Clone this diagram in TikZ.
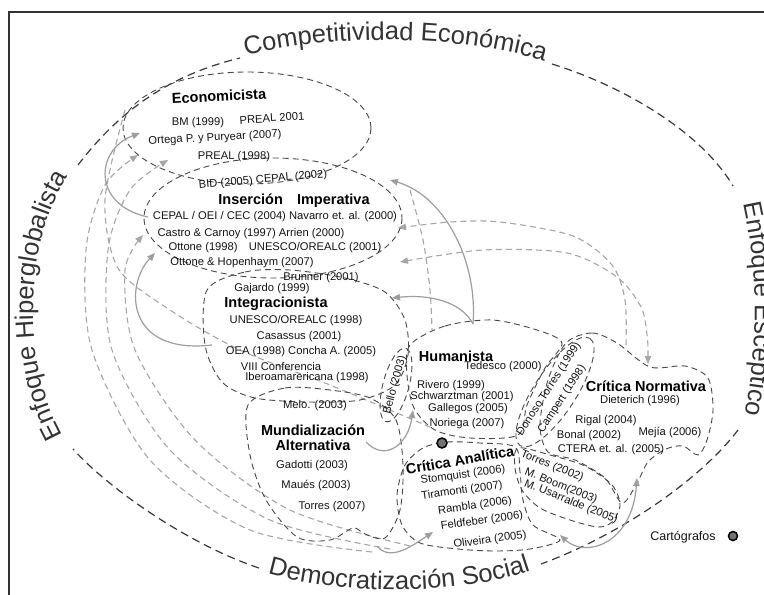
\documentclass[tikz,border=0pt]{standalone}
\usepackage{fontspec}
\setmainfont{Liberation Sans}
\usetikzlibrary{arrows.meta,decorations.text}

\begin{document}
\begin{tikzpicture}[x=1pt,y=-1pt,
  blob/.style={draw=black!72,line width=0.9pt,dash pattern=on 6pt off 4pt},
  outer/.style={draw=black!78,line width=1.2pt,dash pattern=on 8pt off 5pt},
  link/.style={draw=black!35,line width=1.1pt,dash pattern=on 6pt off 4pt},
  flow/.style={draw=black!38,line width=1.2pt},
  tip/.style={-{Triangle[length=8pt,width=6.5pt]}},
  twotip/.style={{Triangle[length=8pt,width=6.5pt]}-{Triangle[length=8pt,width=6.5pt]}},
  lbl/.style={inner sep=0pt,text=black!92,font=\fontsize{11.2}{12}\selectfont},
  ttl/.style={inner sep=0pt,font=\fontsize{14.5}{15}\selectfont\bfseries},
  arcname/.style={decorate,decoration={text along path,text align=center,text color=black!80,
    text={|\fontsize{25.5}{26}\selectfont|#1}}}]
\useasboundingbox (0,0) rectangle (764,595);
\fill[white] (0,0) rectangle (764,595);
\draw[black!80,line width=1.2pt] (764,12) -- (9,12) -- (9,595);

\draw[outer] (78,165) .. controls (120,110) and (170,75) .. (240,58);
\draw[outer] (552,64) .. controls (620,85) and (700,130) .. (733,186);
\draw[outer] (738,430) .. controls (700,480) and (620,535) .. (541,564);
\draw[outer] (259,568) .. controls (190,545) and (110,490) .. (73,449);
\path[arcname=Competitividad Económica] (236,58) .. controls (330,33) and (460,33) .. (554,64);
\path[arcname=Enfoque Escéptico] (738,182) .. controls (760,260) and (760,360) .. (740,436);
\path[arcname=Democratización Social] (250,568) .. controls (330,596) and (465,599) .. (548,564);
\path[arcname=Enfoque Hiperglobalista] (75,455) .. controls (18,380) and (18,230) .. (82,158);

\draw[link,tip] plot[smooth] coordinates {(372,552) (250,530) (150,460) (92,350) (86,250) (105,185) (138,155)};
\draw[link,tip] plot[smooth] coordinates {(390,549) (270,520) (170,450) (112,350) (108,250) (130,190) (168,160)};
\draw[link,tip] plot[smooth] coordinates {(410,546) (290,510) (195,440) (135,350) (125,270) (143,235)};
\draw[link] plot[smooth] coordinates {(125,110) (105,200) (118,268) (170,310) (240,350) (330,385) (430,427)};
\draw[link,tip] plot[smooth] coordinates {(626,345) (625,300) (612,265) (573,236) (500,222) (450,222) (398,228)};
\draw[link,twotip] plot[smooth] coordinates {(648,364) (647,335) (641,307) (617,277) (567,253) (483,250) (400,262)};
\draw[link] plot[smooth] coordinates {(410,190) (423,240) (430,290) (432,330)};

\draw[blob] (247,128) ellipse [x radius=124, y radius=56];
\draw[blob] (273,218) ellipse [x radius=129, y radius=60];
\draw[blob] plot[smooth cycle] coordinates {(207,290) (245,272) (290,270) (345,278) (385,292) (405,320) (408,355) (395,385) (360,400) (310,402) (255,398) (222,382) (205,345)};
\draw[blob] plot[smooth cycle] coordinates {(248,405) (285,388) (330,390) (370,398) (396,420) (403,465) (400,510) (385,538) (365,534) (353,528) (330,540) (297,537) (266,500) (250,455)};
\draw[blob] plot[smooth cycle] coordinates {(410,345) (445,326) (492,320) (537,330) (562,343) (545,368) (527,405) (518,435) (470,438) (435,430) (414,408) (407,375)};
\draw[blob,rotate around={75:(396,385)}] (396,385) ellipse [x radius=38, y radius=13];
\draw[blob,rotate around={57:(555,392)}] (555,392) ellipse [x radius=64, y radius=21];
\draw[blob] plot[smooth cycle] coordinates {(566,343) (592,333) (617,343) (650,367) (685,366) (708,378) (713,410) (707,440) (698,455) (683,446) (666,449) (648,462) (636,485) (622,503) (605,478) (575,460) (548,452) (540,425) (548,380)};
\draw[blob] plot[smooth cycle] coordinates {(518,448) (550,455) (585,466) (612,485) (620,505) (612,522) (598,527) (570,520) (540,508) (522,490) (515,468)};
\draw[blob] plot[smooth cycle] coordinates {(423,448) (447,442) (480,443) (515,447) (520,472) (523,500) (533,525) (560,540) (530,549) (495,551) (458,549) (420,543) (402,525) (397,495) (405,465)};

\coordinate (huTop) at (473,324);
\coordinate (insR) at (390,180);
\coordinate (intR) at (392,298);
\coordinate (insL) at (148,217);
\coordinate (ecoL) at (140,133);
\coordinate (intL) at (212,345);
\coordinate (ottL) at (155,253);
\coordinate (munR) at (366,442);
\coordinate (huL) at (413,410);
\coordinate (munB) at (377,546);
\coordinate (caL) at (433,532);
\coordinate (tbB) at (560,535);
\coordinate (cnB) at (637,478);
\draw[flow,tip] (huTop) .. controls (478,262) and (445,196) .. (insR);
\draw[flow,tip] (huTop) .. controls (462,302) and (430,294) .. (intR);
\draw[flow,tip] (insL) .. controls (92,205) and (95,150) .. (ecoL);
\draw[flow,tip] (intL) .. controls (125,355) and (125,285) .. (ottL);
\draw[flow,tip] (munR) .. controls (385,462) and (408,445) .. (huL);
\draw[flow,tip] (munB) .. controls (390,562) and (412,546) .. (caL);
\draw[flow,twotip] (tbB) .. controls (585,558) and (632,545) .. (cnB);

\node[ttl,rotate=3] (econ) at (219,96) {Economicista};
\node[lbl] (bm) at (198,123) {BM (1999)};
\node[lbl,rotate=4] (preal01) at (272,118) {PREAL 2001};
\node[lbl,rotate=3] (ortega) at (215,138) {Ortega P. y Puryear (2007)};
\node[lbl] (preal98) at (234,157) {PREAL (1998)};
\node[lbl,rotate=5] (bid) at (263,180) {BID (2005) CEPAL (2002)};
\node[ttl] (insercion) at (294,201) {Inserción\hspace{0.7em} Imperativa};
\node[lbl] (cepal) at (275,217) {CEPAL / OEI / CEC (2004) Navarro et. al. (2000)};
\node[lbl] (castro) at (251,234) {Castro \& Carnoy (1997) Arrien (2000)};
\node[lbl] (ottone) at (275,248) {Ottone (1998)\hspace{1em}UNESCO/OREALC (2001)};
\node[lbl] (hopen) at (242,263) {Ottone \& Hopenhaym (2007)};
\node[lbl] (brunner) at (321,278) {Brunner (2001)};
\node[lbl] (gajardo) at (272,289) {Gajardo (1999)};
\node[ttl] (integ) at (276,304) {Integracionista};
\node[lbl] (unesco98) at (296,321) {UNESCO/OREALC (1998)};
\node[lbl] (casassus) at (299,337) {Casassus (2001)};
\node[lbl] (oea) at (301,352) {OEA (1998) Concha A. (2005)};
\node[lbl] (viii) at (281,366) {VIII Conferencia};
\node[lbl] (ibero) at (307,378) {Iberoamarericana (1998)};
\node[lbl] (melo) at (315,406) {Melo. (2003)};
\node[ttl,align=center] (mundial) at (313,438) {Mundialización\\Alternativa};
\node[lbl] (gadotti) at (312,466) {Gadotti (2003)};
\node[lbl] (maues) at (316,486) {Maués (2003)};
\node[lbl] (torres07) at (332,507) {Torres (2007)};
\node[lbl,rotate=75] (bello) at (395,385) {Bello (2003)};
\node[ttl] (human) at (456,356) {Humanista};
\node[lbl] (tedesco) at (503,367) {Tedesco (2000)};
\node[lbl] (rivero) at (451,386) {Rivero (1999)};
\node[lbl] (schwartz) at (462,397) {Schwarztman (2001)};
\node[lbl] (gallegos) at (468,409) {Gallegos (2005)};
\node[lbl] (noriega) at (467,424) {Noriega (2007)};
\node[ttl,rotate=10] (critan) at (460,460) {Crítica Analítica};
\node[lbl,rotate=8] (stom) at (463,475) {Stomquist (2006)};
\node[lbl,rotate=8] (tira) at (462,491) {Tiramonti (2007)};
\node[lbl,rotate=8] (rambla) at (475,506) {Rambla (2006)};
\node[lbl,rotate=8] (feld) at (482,521) {Feldfeber (2006)};
\node[lbl,rotate=8] (oliv) at (490,540) {Oliveira (2005)};
\node[lbl,rotate=-22] (torres02) at (552,466) {Torres (2002)};
\node[lbl,rotate=-22] (boom) at (561,486) {M. Boom(2003)};
\node[lbl,rotate=-22] (usarr) at (571,502) {M. Usarralde (2005)};
\node[lbl,rotate=57] (donoso) at (549,389) {Donoso Torres (1999)};
\node[lbl,rotate=57] (campert) at (562,399) {Campert (1998)};
\node[ttl] (critnor) at (646,386) {Crítica Normativa};
\node[lbl] (dieter) at (640,401) {Dieterich (1996)};
\node[lbl] (rigal) at (606,421) {Rigal (2004)};
\node[lbl] (bonal) at (589,436) {Bonal (2002)};
\node[lbl] (mejia) at (670,433) {Mejía (2006)};
\node[lbl] (ctera) at (611,450) {CTERA et. al. (2005)};
\node[lbl,font=\fontsize{12.5}{13}\selectfont] (carto) at (683,537) {Cartógrafos};
\node[circle,draw=black,line width=1.5pt,fill=black!55,inner sep=0pt,minimum size=9pt] (cdot) at (733,536) {};
\node[circle,draw=black,line width=1.5pt,fill=black!55,inner sep=0pt,minimum size=10pt] (hdot) at (442,443) {};
\end{tikzpicture}
\end{document}
